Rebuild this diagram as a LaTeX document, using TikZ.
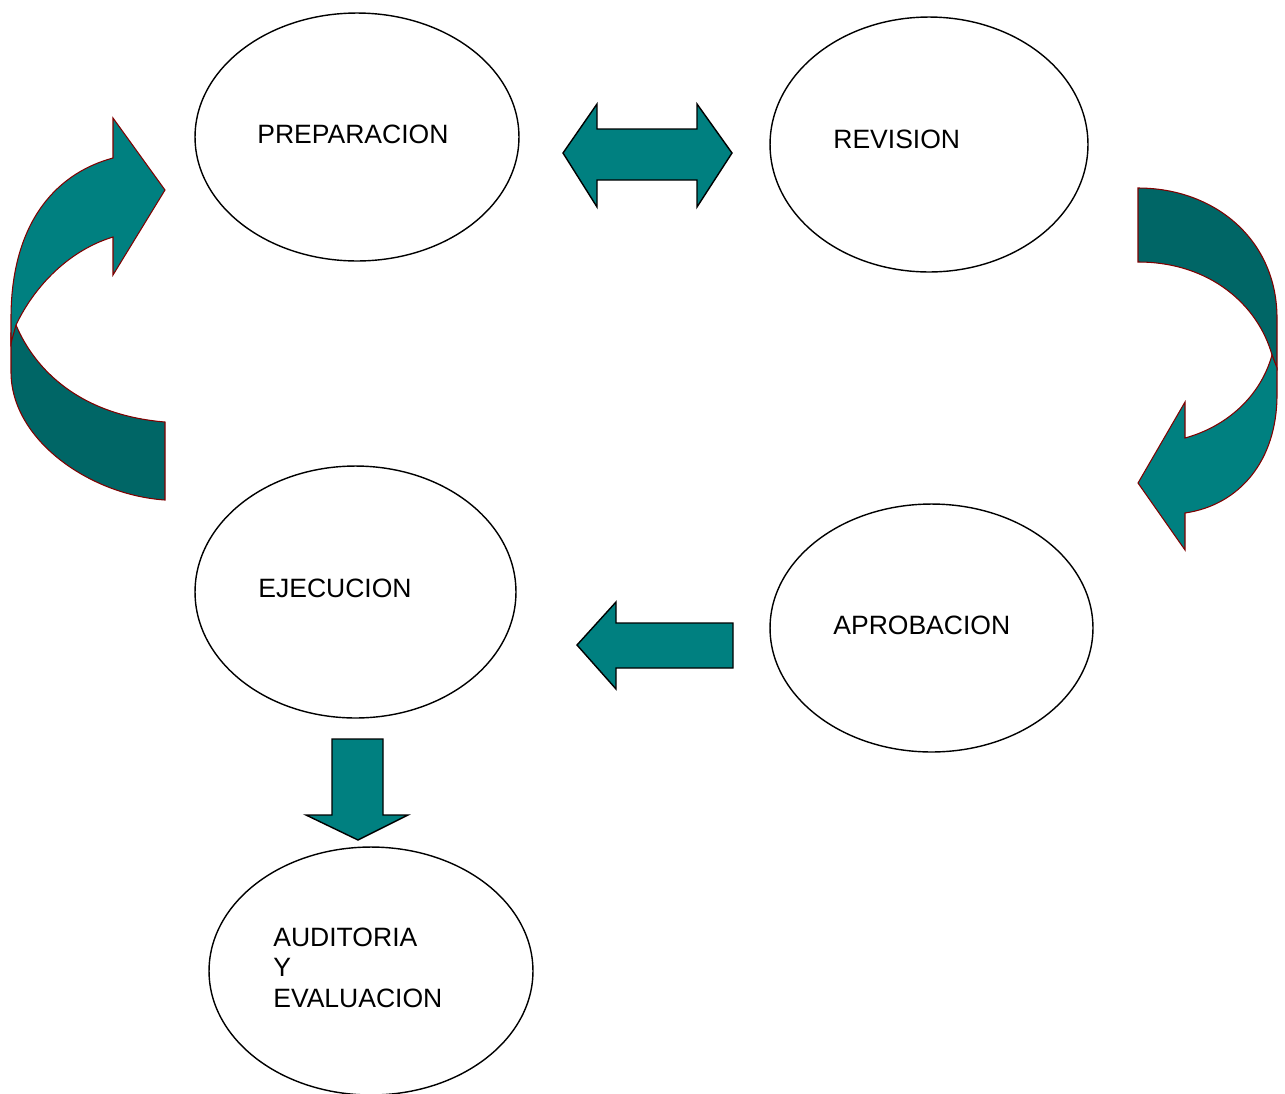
\documentclass[tikz,border=0pt]{standalone}
\usepackage{fontspec}
\setmainfont{Liberation Sans}
\usetikzlibrary{shapes.geometric}
\definecolor{tealA}{HTML}{008080}
\definecolor{tealB}{HTML}{006666}
\definecolor{rimred}{HTML}{800000}
\begin{document}
\begin{tikzpicture}[x=0.02cm, y=-0.02cm,
  every node/.style = {font=\fontsize{15.1}{17.3}\selectfont},
  etapa/.style = {ellipse, draw, line width=0.8pt, inner sep=0pt},
  rotulo/.style = {anchor=base west, inner sep=0pt, align=left},
  flecha/.style = {draw=black, fill=tealA, line width=0.8pt, line join=miter},
  curva/.style = {draw=rimred, line width=0.6pt, line join=miter}]
  \useasboundingbox (0,0) rectangle (1285,1093);

  \node[etapa, minimum width=6.48cm, minimum height=4.96cm] (prep) at (357,137) {};
  \node[etapa, minimum width=6.36cm, minimum height=5.10cm] (rev) at (929,144.5) {};
  \node[etapa, minimum width=6.42cm, minimum height=5.04cm] (ejec) at (355.5,592) {};
  \node[etapa, minimum width=6.46cm, minimum height=4.96cm] (aprob) at (931.5,628) {};
  \node[etapa, minimum width=6.48cm, minimum height=4.96cm] (audit) at (371,971) {};

  \node[rotulo] (tprep) at (257,143) {PREPARACION};
  \node[rotulo] (trev) at (833,148) {REVISION};
  \node[rotulo] (tejec) at (258,597) {EJECUCION};
  \node[rotulo] (taprob) at (833,634) {APROBACION};
  \node[rotulo] (taudit) at (273,1007) {AUDITORIA\\Y\\EVALUACION};

  % block arrows
  \draw[flecha] (563,153) -- (597,104) -- (597,129) -- (697,129) -- (697,104) -- (732,153)
    -- (697,207) -- (697,180) -- (597,180) -- (597,207) -- cycle;
  \draw[flecha] (577,645) -- (616,602) -- (616,623) -- (733,623) -- (733,668)
    -- (616,668) -- (616,689) -- cycle;
  \draw[flecha] (332,739) -- (383,739) -- (383,815) -- (408,815) -- (358,840)
    -- (306,815) -- (332,815) -- cycle;

  % curved arrows
  \draw[curva, fill=tealB] (165,500) .. controls (90,495) and (11,440) .. (11,372) -- (11,333)
    -- (16,325) .. controls (35,370) and (80,415) .. (165,422) -- cycle;
  \draw[curva, fill=tealA] (11,343) -- (11,318) .. controls (11,230) and (50,175) .. (113,158)
    -- (113,118) -- (165,190) -- (113,275) -- (113,237)
    .. controls (70,250) and (35,285) .. (16,325) -- cycle;
  \draw[curva, fill=tealB] (1138,188) .. controls (1215,188) and (1277,240) .. (1277,318)
    -- (1277,368) -- (1272,355) .. controls (1258,305) and (1210,262) .. (1138,262) -- cycle;
  \draw[curva, fill=tealA] (1272,355) -- (1277,368) -- (1277,395)
    .. controls (1277,460) and (1240,505) .. (1185,513) -- (1185,550) -- (1138,483)
    -- (1185,402) -- (1185,438) .. controls (1225,427) and (1260,398) .. (1272,355) -- cycle;
\end{tikzpicture}
\end{document}
